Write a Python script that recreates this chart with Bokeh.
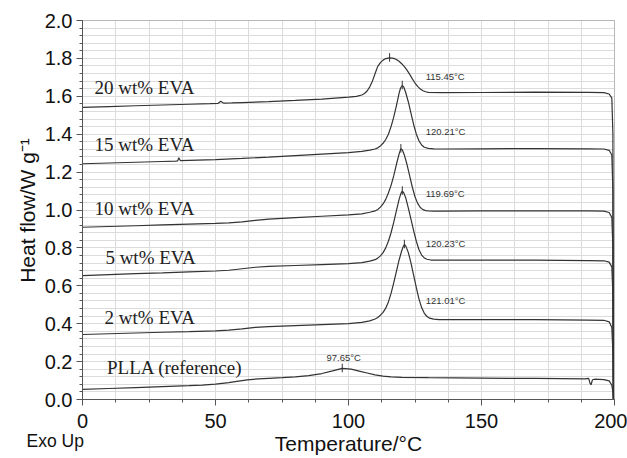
import math
from bokeh.plotting import figure
from bokeh.models import Range1d, SingleIntervalTicker, NumeralTickFormatter, Label, BoxAnnotation
from bokeh.embed import file_html
from bokeh.resources import INLINE
from bokeh.core.properties import value

# ---- data ----
t20 = [0, 10, 20, 30, 40, 48, 51, 52, 53, 56, 60, 70, 80, 90, 100, 103, 105, 106, 107, 108, 109, 110, 111, 112, 113, 114,
       115.45, 117, 118, 119, 120, 121, 122, 123, 124, 125, 126, 127, 128, 129, 130, 135, 150, 170, 190, 196, 198, 199, 199.4, 199.6]
h20 = [1.542, 1.546, 1.550, 1.554, 1.558, 1.561, 1.563, 1.574, 1.564, 1.565, 1.567, 1.572, 1.578, 1.585, 1.596, 1.600, 1.607,
       1.615, 1.628, 1.650, 1.680, 1.720, 1.758, 1.778, 1.791, 1.799, 1.803, 1.800, 1.794, 1.785, 1.772, 1.757, 1.738, 1.716,
       1.692, 1.670, 1.652, 1.638, 1.629, 1.624, 1.621, 1.619, 1.620, 1.622, 1.621, 1.619, 1.612, 1.59, 1.40, 0.0]

t15 = [0, 10, 20, 30, 35, 35.8, 36.2, 36.8, 40, 50, 60, 70, 80, 90, 100, 105, 108, 110, 111, 112, 113, 114, 115, 116, 117,
       118, 119, 119.6, 120.21, 120.8, 121.5, 122.5, 123.5, 124.5, 125.5, 126.5, 127.5, 128.5, 130, 132, 135, 150, 170, 190,
       196, 198, 199, 199.4, 199.6]
h15 = [1.244, 1.248, 1.252, 1.256, 1.258, 1.259, 1.276, 1.261, 1.262, 1.266, 1.272, 1.279, 1.287, 1.295, 1.303, 1.309, 1.316,
       1.322, 1.328, 1.338, 1.352, 1.372, 1.40, 1.44, 1.49, 1.55, 1.615, 1.645, 1.657, 1.648, 1.62, 1.57, 1.51, 1.45, 1.40,
       1.365, 1.343, 1.331, 1.325, 1.323, 1.322, 1.323, 1.324, 1.323, 1.322, 1.315, 1.29, 1.10, 0.0]

t10 = [0, 10, 20, 30, 40, 50, 55, 60, 65, 70, 80, 90, 100, 105, 108, 110, 111, 112, 113, 114, 115, 116, 117, 118, 119, 119.69,
       120.3, 121, 122, 123, 124, 125, 126, 127, 128, 129, 130, 132, 135, 150, 170, 190, 196, 198, 199, 199.4, 199.6]
h10 = [0.909, 0.913, 0.917, 0.921, 0.925, 0.929, 0.932, 0.937, 0.945, 0.952, 0.960, 0.967, 0.974, 0.980, 0.988, 0.995, 1.003,
       1.015, 1.032, 1.056, 1.09, 1.13, 1.18, 1.24, 1.295, 1.323, 1.315, 1.29, 1.24, 1.18, 1.12, 1.07, 1.035, 1.013, 1.002,
       0.997, 0.995, 0.994, 0.994, 0.995, 0.996, 0.995, 0.994, 0.987, 0.96, 0.80, 0.0]

t5 = [0, 10, 20, 30, 40, 50, 55, 60, 65, 70, 80, 90, 100, 105, 108, 110, 111, 112, 113, 114, 115, 116, 117, 118, 119, 119.7,
      120.23, 120.8, 121.5, 122.5, 123.5, 124.5, 125.5, 126.5, 127.5, 128.5, 129.5, 131, 133, 136, 150, 170, 190, 196, 198,
      199, 199.4, 199.6]
h5 = [0.654, 0.659, 0.664, 0.668, 0.673, 0.678, 0.682, 0.690, 0.698, 0.702, 0.707, 0.712, 0.717, 0.722, 0.730, 0.738, 0.746,
      0.758, 0.775, 0.80, 0.835, 0.88, 0.935, 0.995, 1.055, 1.088, 1.10, 1.09, 1.065, 1.01, 0.95, 0.89, 0.835, 0.79, 0.762,
      0.747, 0.740, 0.736, 0.735, 0.735, 0.735, 0.735, 0.733, 0.732, 0.725, 0.70, 0.55, 0.0]

t2 = [0, 10, 20, 30, 40, 50, 55, 60, 65, 70, 80, 90, 100, 105, 108, 110, 111, 112, 113, 114, 115, 116, 117, 118, 119, 120,
      120.5, 121.01, 121.6, 122.5, 123.5, 124.5, 125.5, 126.5, 127.5, 128.5, 129.5, 130.5, 132, 134, 137, 150, 170, 190, 196,
      198, 199, 199.4, 199.6]
h2 = [0.343, 0.347, 0.351, 0.355, 0.358, 0.362, 0.366, 0.373, 0.381, 0.385, 0.390, 0.395, 0.400, 0.407, 0.415, 0.425, 0.433,
      0.445, 0.46, 0.482, 0.515, 0.56, 0.615, 0.675, 0.735, 0.785, 0.805, 0.818, 0.808, 0.775, 0.72, 0.655, 0.59, 0.53, 0.485,
      0.455, 0.438, 0.429, 0.424, 0.422, 0.422, 0.422, 0.421, 0.419, 0.418, 0.41, 0.38, 0.25, 0.0]

tP = [0, 10, 20, 30, 40, 45, 50, 55, 58, 62, 66, 70, 75, 80, 85, 90, 94, 97.65, 101, 104, 107, 110, 113, 116, 120, 130, 140,
      150, 160, 170, 180, 189, 190.3, 190.8, 191.2, 191.7, 192.5, 196, 198, 199, 199.4, 199.6]
hP = [0.053, 0.058, 0.063, 0.068, 0.073, 0.076, 0.081, 0.089, 0.096, 0.104, 0.109, 0.112, 0.115, 0.119, 0.126, 0.137, 0.151,
      0.164, 0.160, 0.150, 0.140, 0.130, 0.123, 0.119, 0.117, 0.115, 0.114, 0.113, 0.112, 0.111, 0.110, 0.109, 0.111, 0.085,
      0.078, 0.104, 0.107, 0.105, 0.098, 0.075, 0.04, 0.0]

series_names = ["20 wt% EVA", "15 wt% EVA", "10 wt% EVA", "5 wt% EVA", "2 wt% EVA", "PLLA (reference)"]
name_t = [4.5, 4.5, 4.5, 8.6, 8.3, 9.2]
name_h = [1.645, 1.344, 1.006, 0.748, 0.435, 0.171]

peak_t = [115.45, 120.21, 119.69, 120.23, 121.01, 97.65]
peak_h = [1.803, 1.657, 1.323, 1.10, 0.818, 0.164]
peak_text = ["115.45°C", "120.21°C", "119.69°C", "120.23°C", "121.01°C", "97.65°C"]
peak_lab_t = [129, 129, 129, 129, 129, 98.2]
peak_lab_h = [1.706, 1.416, 1.085, 0.823, 0.525, 0.224]

x_lo, x_hi = 0, 200
y_lo, y_hi = 0.0, 2.0
x_ticks_interval = 50
y_ticks_interval = 0.2

# ---- layout (pixels) ----
W, H = 627, 458
left_px, right_px, top_px, bottom_px = 82, 614, 20, 399
sx = (right_px - left_px) / (x_hi - x_lo)
sy = (bottom_px - top_px) / (y_hi - y_lo)
xr = Range1d(x_lo - left_px / sx, x_hi + (W - right_px) / sx)
yr = Range1d(y_lo - (H - bottom_px) / sy, y_hi + top_px / sy)

def dx(px):  # canvas x pixel -> data
    return x_lo + (px - left_px) / sx

def dy(py):  # canvas y pixel -> data
    return y_lo + (bottom_px - py) / sy

p = figure(width=W, height=H, output_backend="svg", toolbar_location=None,
           x_range=xr, y_range=yr,
           min_border_left=0, min_border_right=0, min_border_top=0, min_border_bottom=0)
p.background_fill_color = "white"
p.border_fill_color = "white"
p.outline_line_color = None

grid_col = "#dcdcdc"
p.xaxis.ticker = SingleIntervalTicker(interval=x_ticks_interval, num_minor_ticks=4)
p.yaxis.ticker = SingleIntervalTicker(interval=y_ticks_interval, num_minor_ticks=5)
p.yaxis.formatter = NumeralTickFormatter(format="0.0")
p.xaxis.fixed_location = y_lo
p.yaxis.fixed_location = x_lo
p.xaxis.bounds = (x_lo, x_hi)
p.yaxis.bounds = (y_lo, y_hi)

p.xgrid.bounds = (x_lo, x_hi)
p.ygrid.bounds = (y_lo, y_hi)
try:
    p.xgrid.cross_bounds = (y_lo, y_hi)
    p.ygrid.cross_bounds = (x_lo, x_hi)
except Exception:
    pass
for g in (p.xgrid, p.ygrid):
    g.grid_line_color = grid_col
    g.minor_grid_line_color = grid_col
    g.grid_line_width = 1
    g.minor_grid_line_width = 1

for ax in (p.xaxis, p.yaxis):
    ax.axis_line_color = "#555555"
    ax.major_tick_line_color = "#555555"
    ax.minor_tick_line_color = "#555555"
    ax.major_tick_in = 0
    ax.major_tick_out = 6
    ax.minor_tick_in = 0
    ax.minor_tick_out = 3
    ax.major_label_text_font = "Liberation Sans"
    ax.major_label_text_font_size = "20px"
    ax.major_label_text_color = "#111111"
p.xaxis.major_label_standoff = 8
p.yaxis.major_label_standoff = 4

# plot box
p.add_layout(BoxAnnotation(left=x_lo, right=x_hi, bottom=y_lo, top=y_hi, fill_alpha=0,
                           line_color="#666666", line_width=1, level="underlay"))

line_col = "#333333"
for tt, hh in ((t20, h20), (t15, h15), (t10, h10), (t5, h5), (t2, h2), (tP, hP)):
    p.line(tt, hh, line_color=line_col, line_width=1.2)

# peak markers
p.segment(x0=peak_t, y0=[h - 0.02 for h in peak_h], x1=peak_t, y1=[h + 0.025 for h in peak_h],
          line_color=line_col, line_width=1)

# peak temperature labels
p.text(x=peak_lab_t[:5], y=peak_lab_h[:5], text=peak_text[:5], text_font=value("Liberation Sans"),
       text_font_size="9.5px", text_color="#333333", text_align="left", text_baseline="middle")
p.text(x=peak_lab_t[5:], y=peak_lab_h[5:], text=peak_text[5:], text_font=value("Liberation Sans"),
       text_font_size="9.5px", text_color="#333333", text_align="center", text_baseline="middle")

# series names
p.text(x=name_t, y=name_h, text=series_names, text_font=value("Liberation Serif"),
       text_font_size="19px", text_color="#222222", text_align="left", text_baseline="middle")

# axis titles and the "Exo Up" note
p.add_layout(Label(x=dx(348), y=dy(443), text="Temperature/°C", text_font="Liberation Sans",
                   text_font_size="21px", text_color="#111111", text_align="center", text_baseline="middle"))
p.add_layout(Label(x=dx(27), y=dy(210), text="Heat flow/W g⁻¹", text_font="Liberation Sans",
                   text_font_size="21px", text_color="#111111", text_align="center", text_baseline="middle",
                   angle=math.pi / 2))
p.add_layout(Label(x=dx(26), y=dy(440), text="Exo Up", text_font="Liberation Sans", text_font_size="17.5px",
                   text_color="#111111", text_baseline="middle", text_align="left"))

open("out.html", "w").write(file_html(p, INLINE))
